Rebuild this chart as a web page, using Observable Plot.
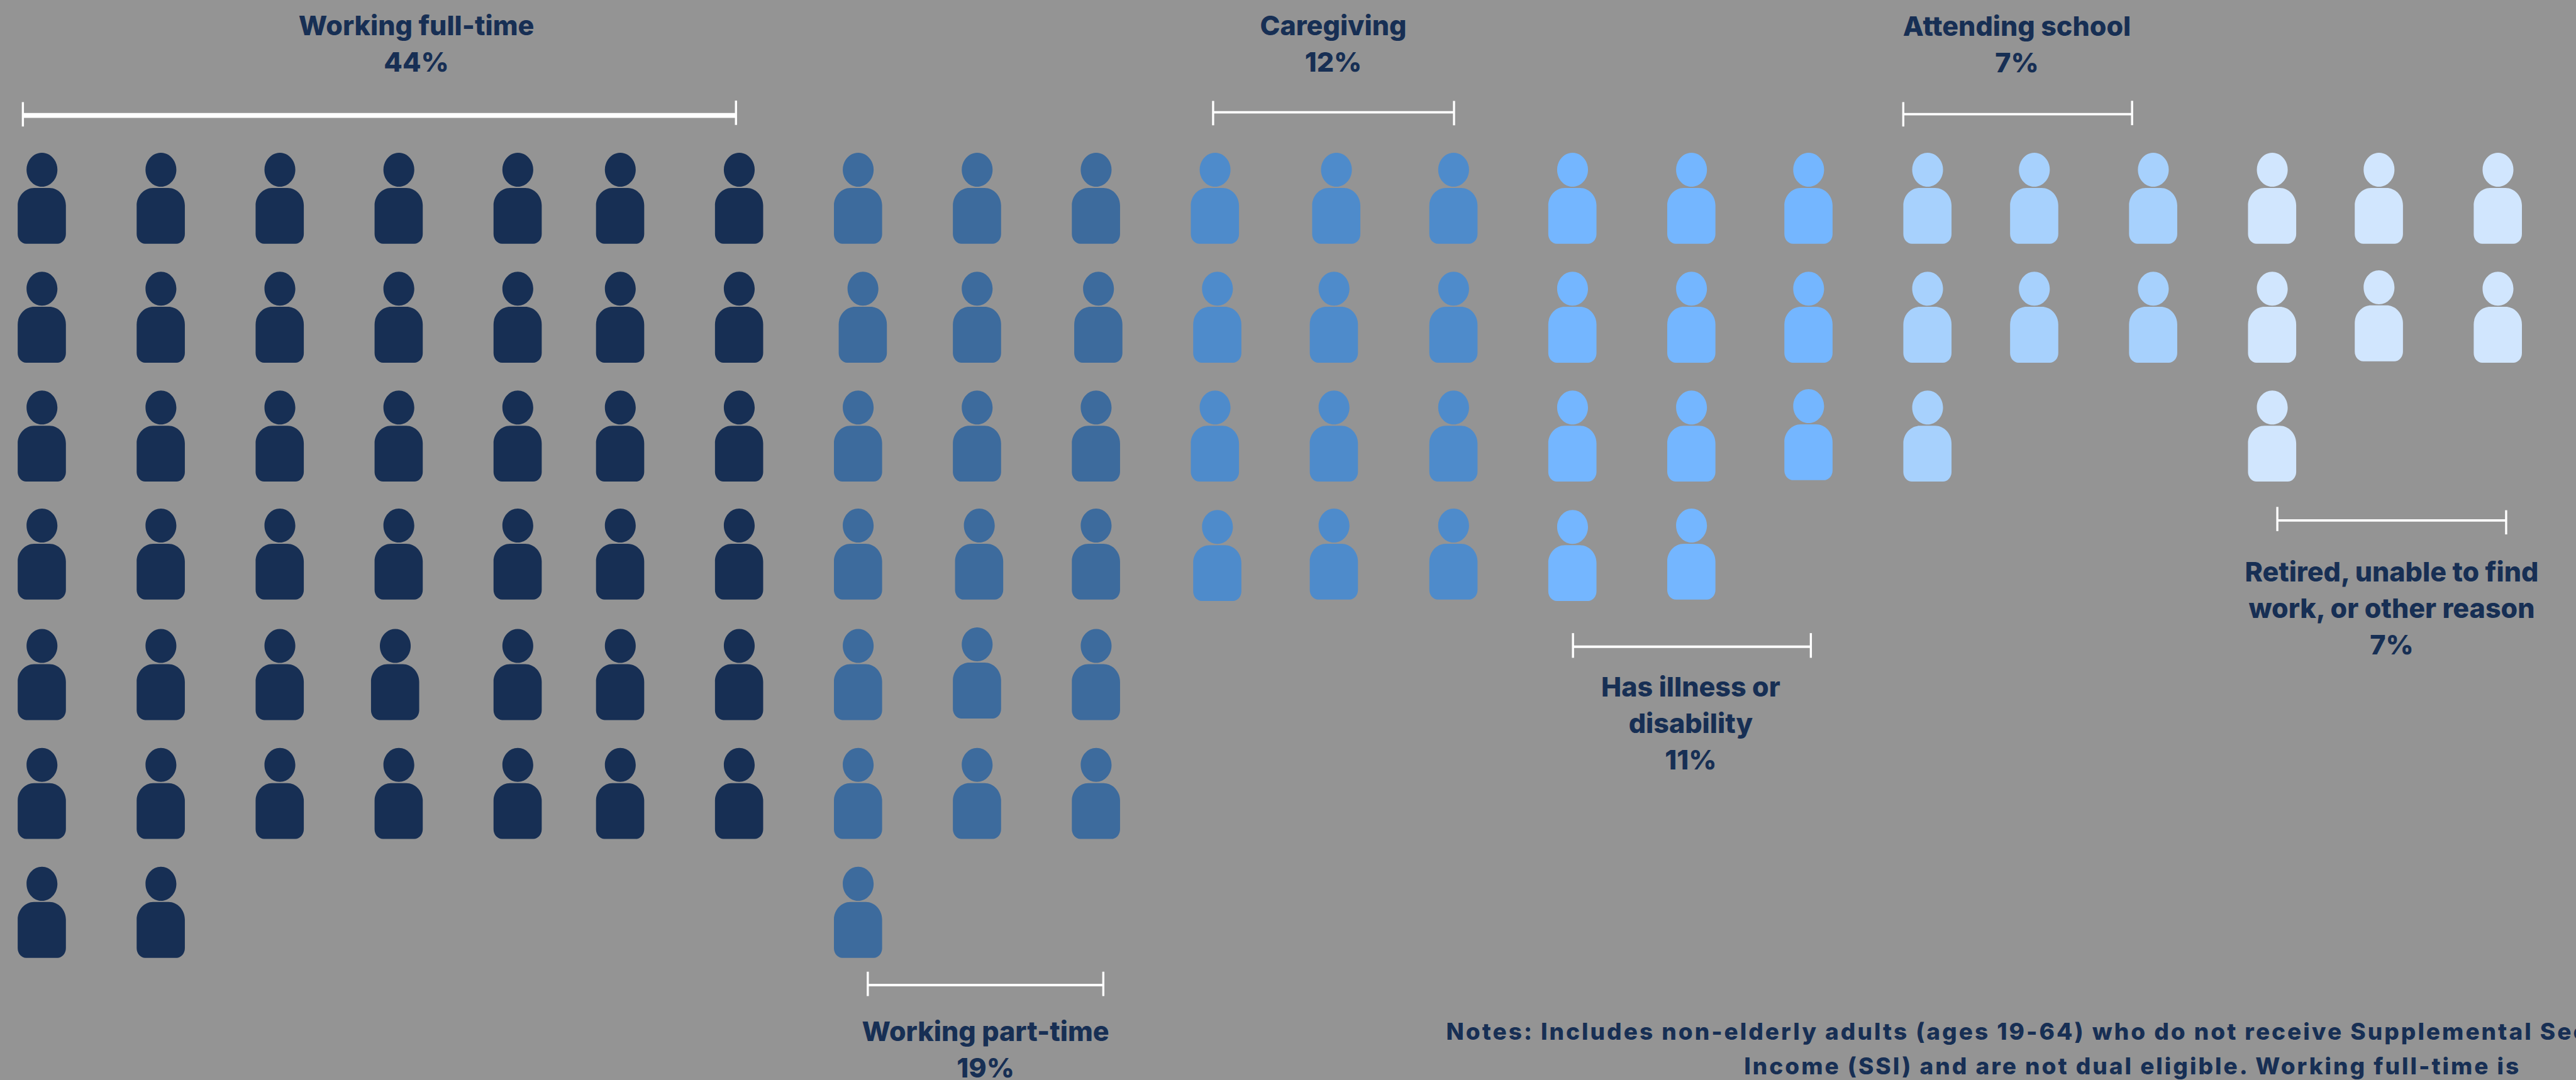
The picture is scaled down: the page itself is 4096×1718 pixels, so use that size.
<!DOCTYPE html>
<html>
<head>
<meta charset="utf-8">
<script src="https://cdn.jsdelivr.net/npm/d3@7"></script>
<script src="https://cdn.jsdelivr.net/npm/@observablehq/plot@0.6"></script>
<style>
  html, body { margin: 0; padding: 0; background: #949494; overflow: hidden; }
  svg { display: block; }
</style>
</head>
<body>
<div id="chart"></div>
<script>
// Main activity of non-elderly adults: each person icon stands for one percent.
const categories = [
  "Working full-time",
  "Working part-time",
  "Caregiving",
  "Has illness or\ndisability",
  "Attending school",
  "Retired, unable to find\nwork, or other reason"
];
const shares = [44, 19, 12, 11, 7, 7];
// How many people stand in each column of a category's block.
const columnHeights = [
  [7, 7, 6, 6, 6, 6, 6],
  [7, 6, 6],
  [4, 4, 4],
  [4, 4, 3],
  [3, 2, 2],
  [3, 2, 2]
];
const fills = ["#172F54", "#3D6B9D", "#4E8BCB", "#74B6FF", "#A7D1FD", "#D1E6FE"];

// Hand-placed icons that sit slightly off the grid: column, row, shift in grid units.
const offGrid = [
  [3, 4, -0.03, 0],
  [7, 1, 0.04, 0],
  [8, 3, 0.018, 0],
  [8, 4, 0, -0.013],
  [9, 1, 0.02, 0],
  [10, 1, 0.02, 0],
  [10, 3, 0.02, 0.012],
  [11, 0, 0.02, 0],
  [13, 3, 0, 0.012],
  [15, 2, 0, -0.012],
  [20, 1, 0, -0.012]
];

// Brackets in grid units: span, bar level, tick levels, bar weight.
const bracketFrom = [-0.159, 7.082, 9.985, 13.005, 15.797, 19.049];
const bracketTo = [5.974, 9.062, 12.005, 15.02, 17.823, 21.07];
const bracketLevel = [-0.699, 6.61, -0.725, 3.767, -0.709, 2.713];
const leftTickLevel = [-0.708, 6.6, -0.718, 3.757, -0.708, 2.701];
const rightTickLevel = [-0.721, 6.6, -0.718, 3.757, -0.719, 2.729];
const bracketWeight = [7.8, 3.9, 3.9, 3.9, 3.9, 3.9];

// Label anchors in grid units (baseline of the last line).
const labelColumn = [3.149, 8.072, 10.995, 13.995, 16.838, 20.108];
const labelRow = [-1.069, 7.385, -1.067, 4.798, -1.062, 3.833];

const noteLines = [
  "Notes: Includes non-elderly adults (ages 19-64) who do not receive Supplemental Security",
  "Income (SSI) and are not dual eligible. Working full-time is"
];
const noteColumn = [11.939, 14.45];
const noteRow = [7.072, 7.363];

// Pixel position of every grid column and row.
const columnPx = [68, 263, 458, 653, 848, 1016, 1211, 1406, 1601, 1796, 1991, 2186, 2382, 2577,
  2772, 2964, 3159, 3334, 3529, 3724, 3899, 4094].map(v => v * 0.97);
const rowPx = [325, 520, 715, 908.5, 1106, 1301, 1496].map(v => v * 0.97);

// Build the people from the column heights, one per percentage point.
const people = [];
let nextColumn = 0;
columnHeights.forEach((heights, c) => {
  heights.forEach(height => {
    for (let row = 0; row < height; ++row) {
      const shift = offGrid.find(s => s[0] === nextColumn && s[1] === row) || [0, 0, 0, 0];
      people.push({category: categories[c], column: nextColumn + shift[2], row: row + shift[3]});
    }
    nextColumn += 1;
  });
});

const brackets = categories.map((name, i) => ({
  name,
  from: bracketFrom[i],
  to: bracketTo[i],
  level: bracketLevel[i],
  left: leftTickLevel[i],
  right: rightTickLevel[i],
  weight: bracketWeight[i]
}));
const labels = categories.map((name, i) => ({
  text: `${name}\n${shares[i]}%`,
  column: labelColumn[i],
  row: labelRow[i]
}));
const notes = noteLines.map((text, i) => ({text, column: noteColumn[i], row: noteRow[i]}));

// Person glyph: an oval head above a round-shouldered body. Unit: r = 50.
const k = 0.5523;
const person = {
  draw(ctx, size) {
    const u = Math.sqrt(size / Math.PI) / 50;
    const oval = (cx, cy, rx, ry) => {
      ctx.moveTo((cx + rx) * u, cy * u);
      ctx.bezierCurveTo((cx + rx) * u, (cy + k * ry) * u, (cx + k * rx) * u, (cy + ry) * u, cx * u, (cy + ry) * u);
      ctx.bezierCurveTo((cx - k * rx) * u, (cy + ry) * u, (cx - rx) * u, (cy + k * ry) * u, (cx - rx) * u, cy * u);
      ctx.bezierCurveTo((cx - rx) * u, (cy - k * ry) * u, (cx - k * rx) * u, (cy - ry) * u, cx * u, (cy - ry) * u);
      ctx.bezierCurveTo((cx + k * rx) * u, (cy - ry) * u, (cx + rx) * u, (cy - k * ry) * u, (cx + rx) * u, cy * u);
      ctx.closePath();
    };
    oval(0.3, -47.15, 25.3, 27.85);
    const l = -39.5, r = 39.5, t = -17.3, b = 74.3;
    const trx = 27, try_ = 29, brx = 14, bry = 16;
    ctx.moveTo((l + trx) * u, t * u);
    ctx.lineTo((r - trx) * u, t * u);
    ctx.bezierCurveTo((r - trx + k * trx) * u, t * u, r * u, (t + try_ - k * try_) * u, r * u, (t + try_) * u);
    ctx.lineTo(r * u, (b - bry) * u);
    ctx.bezierCurveTo(r * u, (b - bry + k * bry) * u, (r - brx + k * brx) * u, b * u, (r - brx) * u, b * u);
    ctx.lineTo((l + brx) * u, b * u);
    ctx.bezierCurveTo((l + brx - k * brx) * u, b * u, l * u, (b - bry + k * bry) * u, l * u, (b - bry) * u);
    ctx.lineTo(l * u, (t + try_) * u);
    ctx.bezierCurveTo(l * u, (t + try_ - k * try_) * u, (l + trx - k * trx) * u, t * u, (l + trx) * u, t * u);
    ctx.closePath();
  }
};

const ink = "#172F54";
const face = "Inter, 'Open Sans', sans-serif";
const tickHalf = 0.1025;

const chart = Plot.plot({
  width: 4096,
  height: 1718,
  margin: 0,
  style: {background: "#949494", overflow: "hidden"},
  x: {axis: null, type: "linear", domain: d3.range(columnPx.length), range: columnPx},
  y: {axis: null, type: "linear", domain: d3.range(rowPx.length), range: rowPx},
  color: {domain: categories, range: fills},
  marks: [
    Plot.dot(people, {x: "column", y: "row", fill: "category", r: 48.5, symbol: person}),
    Plot.link(brackets, {x1: "from", x2: "to", y1: "level", y2: "level", stroke: "white", strokeWidth: "weight", strokeLinecap: "butt"}),
    Plot.link(brackets, {x1: "from", x2: "from", y1: d => d.left - tickHalf, y2: d => d.left + tickHalf, stroke: "white", strokeWidth: 3.4}),
    Plot.link(brackets, {x1: "to", x2: "to", y1: d => d.right - tickHalf, y2: d => d.right + tickHalf, stroke: "white", strokeWidth: 3.4}),
    Plot.text(labels, {
      x: "column", y: "row", text: "text", lineAnchor: "bottom", lineHeight: 1.35,
      fill: ink, fontFamily: face, fontWeight: 800, fontSize: 43
    }),
    Plot.text(notes, {
      x: "column", y: "row", text: "text", textAnchor: "start", lineAnchor: "bottom",
      fill: ink, fontFamily: face, fontWeight: 800, fontSize: 37
    })
  ]
});

// The footnote is set with open tracking.
d3.select(chart).selectAll("text")
  .filter(function() { return this.textContent.startsWith("Notes") || this.textContent.startsWith("Income"); })
  .style("letter-spacing", "3px");

document.getElementById("chart").appendChild(chart);
</script>
</body>
</html>
